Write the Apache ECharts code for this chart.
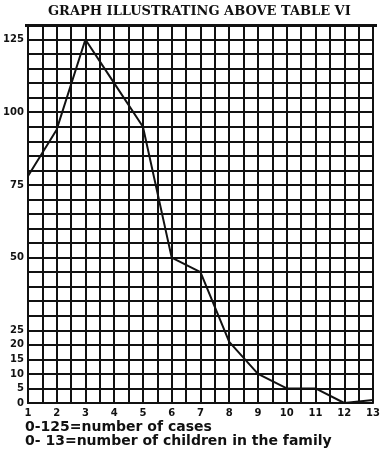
<!DOCTYPE html>
<html><head><meta charset="utf-8">
<script src="https://cdn.jsdelivr.net/npm/echarts@6/dist/echarts.min.js"></script>
<style>html,body{margin:0;padding:0;background:#fff}#c{width:383px;height:450px}</style>
</head><body><div id="c"></div>
<script>
var children = [1,2,3,4,5,6,7,8,9,10,11,12,13];
var cases = [78,94,125,110,95,50,45,21,10,5,5,0,1];
var yTickLabels = [0,5,10,15,20,25,50,75,100,125];
var titleText = 'GRAPH ILLUSTRATING ABOVE TABLE VI';
var legendLines = ['0-125=number of cases', '0- 13=number of children in the family'];

var chart = echarts.init(document.getElementById('c'));
chart.setOption({
  backgroundColor: '#fff',
  animation: false,
  title: {
    text: titleText, left: 48, top: 5, padding: 0,
    textStyle: {fontFamily: 'DejaVu Serif', fontWeight: 'bold', fontSize: 13, color: '#111'}
  },
  grid: {left: 25, right: 6, top: 25, bottom: 47},
  xAxis: {
    type: 'value', min: 1, max: 13, interval: 0.5,
    axisLine: {show: true, lineStyle: {color: '#111', width: 2}},
    axisTick: {show: false},
    splitLine: {show: true, lineStyle: {color: '#111', width: 2}},
    axisLabel: {
      margin: 5, color: '#111', fontFamily: 'DejaVu Sans', fontWeight: 'bold', fontSize: 10,
      formatter: function (v) { return children.indexOf(v) >= 0 ? String(v) : ''; }
    }
  },
  yAxis: {
    type: 'value', min: 0, max: 130, interval: 5,
    axisLine: {show: true, lineStyle: {color: '#111', width: 2}},
    axisTick: {show: false},
    splitLine: {show: true, lineStyle: {color: '#111', width: 2}},
    axisLabel: {
      margin: 4, color: '#111', fontFamily: 'DejaVu Sans', fontWeight: 'bold', fontSize: 10,
      formatter: function (v) { return yTickLabels.indexOf(v) >= 0 ? String(v) : ''; }
    }
  },
  series: [{
    type: 'line',
    data: children.map(function (x, i) { return [x, cases[i]]; }),
    showSymbol: false,
    lineStyle: {color: '#111', width: 2}
  }],
  graphic: [
    {type: 'text', left: 25, top: 420, style: {text: legendLines[0], fill: '#111', font: 'bold 14px "DejaVu Sans"'}},
    {type: 'text', left: 25, top: 434, style: {text: legendLines[1], fill: '#111', font: 'bold 14px "DejaVu Sans"'}},
    {type: 'rect', shape: {x: 25, y: 24, width: 352, height: 3}, style: {fill: '#111'}}
  ]
});
</script></body></html>
